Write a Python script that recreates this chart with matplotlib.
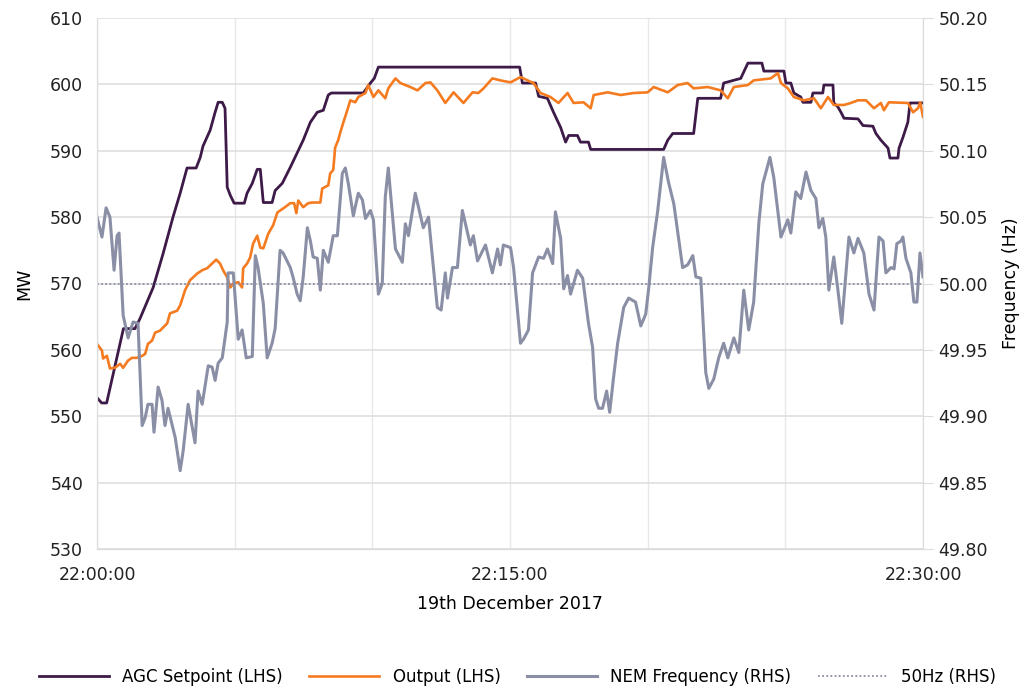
"""AGC setpoint vs unit output and NEM frequency, 19 Dec 2017 22:00-22:30"""

import numpy as np
import pandas as pd
import matplotlib
matplotlib.use("Agg")
import matplotlib.pyplot as plt
import matplotlib.dates as mdates
from matplotlib.ticker import FixedLocator, FuncFormatter

# minutes after 22:00:00
agc_min = [0, 0.17, 0.35, 0.72, 0.96, 1.38, 1.56, 2.04, 2.40, 2.76, 3.02, 3.27, 3.60,
           3.75, 3.85, 4.11, 4.29, 4.40, 4.55, 4.65, 4.73, 4.84, 4.98, 5.35, 5.45, 5.64,
           5.82, 5.93, 6.04, 6.36, 6.47, 6.73, 7.02, 7.49, 7.75, 8.00, 8.22, 8.40, 8.51,
           9.67, 9.93, 10.07, 10.22, 15.35, 15.45, 15.93, 16.04, 16.36, 16.58, 16.84,
           17.02, 17.13, 17.45, 17.56, 17.85, 17.93, 20.58, 20.73, 20.91, 21.67, 21.82,
           22.65, 22.76, 23.38, 23.64, 24.15, 24.22, 24.95, 25.02, 25.20, 25.31, 25.56,
           25.64, 25.93, 26.00, 26.36, 26.40, 26.73, 26.76, 26.91, 27.02, 27.13, 27.64,
           27.82, 28.18, 28.29, 28.47, 28.73, 28.80, 29.09, 29.13, 29.27, 29.45, 29.53, 30.0]
agc_mw = [552.8, 552.0, 552.0, 558.8, 563.2, 563.2, 564.7, 569.4, 574.5, 580.0, 583.6,
          587.4, 587.4, 589.0, 590.7, 593.1, 595.8, 597.3, 597.3, 596.4, 584.5, 583.3,
          582.1, 582.1, 583.6, 585.1, 587.2, 587.2, 582.2, 582.2, 584.0, 585.1, 587.5,
          591.6, 594.3, 595.8, 596.1, 598.4, 598.7, 598.7, 600.2, 600.9, 602.6, 602.6,
          600.2, 600.2, 598.2, 597.9, 595.8, 593.5, 591.3, 592.3, 592.3, 591.3, 591.3,
          590.2, 590.2, 591.6, 592.6, 592.6, 597.9, 597.9, 600.2, 600.9, 603.2, 603.2,
          602.0, 602.0, 600.2, 600.2, 598.7, 598.1, 597.3, 597.3, 598.7, 598.7, 599.9,
          599.9, 597.2, 596.6, 595.8, 594.9, 594.8, 593.8, 593.7, 592.6, 591.6, 590.4,
          588.9, 588.9, 590.4, 592.0, 594.3, 597.2, 597.2]

out_min = [0, 0.18, 0.22, 0.36, 0.47, 0.65, 0.84, 0.95, 1.13, 1.27, 1.45, 1.64, 1.75,
           1.85, 2.00, 2.11, 2.29, 2.55, 2.65, 2.91, 3.02, 3.20, 3.38, 3.64, 3.82, 4.00,
           4.18, 4.33, 4.47, 4.58, 4.73, 4.84, 4.95, 5.13, 5.27, 5.31, 5.45, 5.56, 5.67,
           5.82, 5.93, 6.04, 6.22, 6.40, 6.55, 6.76, 7.02, 7.16, 7.24, 7.31, 7.49, 7.67,
           7.82, 8.11, 8.18, 8.40, 8.47, 8.58, 8.65, 8.76, 8.84, 8.95, 9.09, 9.20, 9.38,
           9.49, 9.75, 9.85, 10.04, 10.22, 10.47, 10.58, 10.84, 11.02, 11.38, 11.64,
           11.93, 12.11, 12.36, 12.65, 12.95, 13.31, 13.64, 13.85, 14.04, 14.36, 14.65,
           15.02, 15.38, 15.64, 15.85, 16.11, 16.47, 16.76, 17.09, 17.31, 17.67, 17.93,
           18.04, 18.55, 19.02, 19.49, 20.00, 20.22, 20.73, 21.09, 21.45, 21.67, 22.18,
           22.65, 22.91, 23.13, 23.64, 23.85, 24.47, 24.73, 24.84, 25.09, 25.31, 25.67,
           26.04, 26.29, 26.55, 26.76, 27.13, 27.38, 27.64, 27.93, 28.22, 28.47, 28.58,
           28.76, 29.45, 29.64, 29.82, 29.90, 30.0]
out_mw = [560.9, 559.9, 558.7, 559.1, 557.2, 557.3, 557.9, 557.3, 558.4, 558.8, 558.8,
          559.1, 559.4, 560.9, 561.4, 562.6, 562.9, 564.0, 565.5, 565.9, 566.7, 569.0,
          570.5, 571.5, 572.0, 572.3, 573.0, 573.6, 573.0, 572.0, 570.9, 569.4, 570.0,
          570.2, 569.4, 572.3, 573.0, 573.9, 576.0, 577.2, 575.4, 575.3, 577.5, 578.8,
          580.7, 581.3, 582.1, 582.1, 580.6, 582.5, 581.5, 582.1, 582.2, 582.2, 584.3,
          584.8, 586.6, 587.1, 590.5, 591.6, 592.8, 594.3, 596.1, 597.6, 597.3, 598.1,
          598.7, 599.9, 598.1, 599.1, 597.9, 599.4, 600.9, 600.2, 599.6, 599.1, 600.2,
          600.3, 599.1, 597.2, 598.8, 597.2, 598.8, 598.7, 599.4, 600.9, 600.6, 600.3,
          601.1, 600.6, 600.2, 598.7, 598.1, 597.2, 598.7, 597.2, 597.3, 596.4, 598.4,
          598.8, 598.4, 598.7, 598.8, 599.6, 598.8, 599.9, 600.2, 599.4, 599.6, 599.1,
          597.9, 599.6, 599.9, 600.6, 600.9, 601.7, 600.2, 599.4, 598.1, 597.6, 597.9,
          596.4, 598.1, 596.9, 596.9, 597.2, 597.6, 597.6, 596.4, 597.2, 596.1, 597.3,
          597.2, 595.8, 596.4, 597.3, 595.1]

freq_min = [0, 0.18, 0.33, 0.47, 0.62, 0.73, 0.80, 0.95, 1.13, 1.31, 1.49, 1.64, 1.75,
            1.85, 2.00, 2.07, 2.22, 2.36, 2.47, 2.58, 2.84, 3.02, 3.13, 3.31, 3.56, 3.67,
            3.82, 4.04, 4.18, 4.29, 4.40, 4.55, 4.73, 4.76, 4.95, 5.13, 5.27, 5.42, 5.64,
            5.75, 5.85, 6.04, 6.18, 6.36, 6.47, 6.65, 6.76, 7.02, 7.13, 7.27, 7.38, 7.49,
            7.64, 7.75, 7.85, 8.00, 8.11, 8.22, 8.40, 8.58, 8.73, 8.91, 9.02, 9.13, 9.31,
            9.49, 9.64, 9.75, 9.93, 10.04, 10.22, 10.36, 10.47, 10.58, 10.84, 11.09, 11.20,
            11.31, 11.56, 11.75, 11.85, 12.04, 12.36, 12.50, 12.65, 12.73, 12.91, 13.09,
            13.27, 13.56, 13.67, 13.82, 14.11, 14.36, 14.55, 14.65, 14.76, 15.02, 15.13,
            15.38, 15.49, 15.67, 15.82, 16.04, 16.22, 16.36, 16.55, 16.65, 16.84, 16.95,
            17.09, 17.20, 17.45, 17.64, 17.85, 18.00, 18.11, 18.22, 18.36, 18.51, 18.62,
            18.76, 18.91, 19.13, 19.31, 19.56, 19.75, 19.93, 20.04, 20.18, 20.36, 20.58,
            20.76, 20.95, 21.27, 21.45, 21.64, 21.75, 21.93, 22.11, 22.22, 22.40, 22.58,
            22.76, 22.91, 23.13, 23.31, 23.49, 23.67, 23.85, 24.04, 24.18, 24.44, 24.58,
            24.84, 25.09, 25.20, 25.38, 25.56, 25.75, 25.93, 26.11, 26.22, 26.36, 26.47,
            26.58, 26.76, 26.91, 27.05, 27.31, 27.49, 27.64, 27.85, 28.04, 28.22, 28.40,
            28.55, 28.65, 28.84, 28.95, 29.05, 29.20, 29.27, 29.38, 29.56, 29.67, 29.78,
            29.89, 30.0]
freq_hz = [50.050, 50.035, 50.057, 50.050, 50.010, 50.036, 50.038, 49.976, 49.959,
           49.971, 49.970, 49.893, 49.899, 49.909, 49.909, 49.888, 49.922, 49.912,
           49.893, 49.906, 49.884, 49.859, 49.874, 49.909, 49.880, 49.919, 49.909,
           49.938, 49.937, 49.927, 49.940, 49.944, 49.971, 50.008, 50.008, 49.958,
           49.965, 49.944, 49.945, 50.021, 50.012, 49.985, 49.944, 49.955, 49.966,
           50.025, 50.023, 50.012, 50.004, 49.992, 49.987, 50.005, 50.042, 50.032,
           50.020, 50.019, 49.995, 50.025, 50.016, 50.036, 50.036, 50.083, 50.087,
           50.075, 50.051, 50.068, 50.063, 50.049, 50.055, 50.048, 49.992, 50.000,
           50.065, 50.087, 50.026, 50.016, 50.045, 50.036, 50.068, 50.051, 50.042,
           50.050, 49.982, 49.980, 50.008, 49.989, 50.012, 50.012, 50.055, 50.029,
           50.036, 50.017, 50.029, 50.008, 50.026, 50.014, 50.029, 50.027, 50.012,
           49.955, 49.958, 49.965, 50.008, 50.020, 50.019, 50.026, 50.015, 50.054,
           50.034, 49.996, 50.006, 49.992, 50.010, 50.004, 49.970, 49.952, 49.913,
           49.906, 49.906, 49.919, 49.903, 49.929, 49.955, 49.982, 49.989, 49.986,
           49.968, 49.977, 49.997, 50.027, 50.054, 50.095, 50.076, 50.060, 50.012,
           50.014, 50.021, 50.005, 50.004, 49.933, 49.921, 49.928, 49.944, 49.955,
           49.944, 49.959, 49.948, 49.995, 49.965, 49.986, 50.046, 50.075, 50.095,
           50.080, 50.035, 50.048, 50.038, 50.069, 50.064, 50.084, 50.070, 50.064,
           50.042, 50.049, 50.035, 49.995, 50.020, 49.995, 49.970, 50.035, 50.023,
           50.034, 50.023, 49.992, 49.980, 50.035, 50.032, 50.008, 50.012, 50.011,
           50.030, 50.032, 50.035, 50.019, 50.008, 49.986, 49.986, 50.023, 50.005]

nominal_hz = 50.0

start = pd.Timestamp("2017-12-19 22:00:00")


def to_time(minutes):
    return start + pd.to_timedelta(np.asarray(minutes), unit="min")


PURPLE = "#3d1a47"
ORANGE = "#f47b20"
GREY = "#8a8fa6"
GRID = "#dcdcdc"

plt.rcParams["font.family"] = ["DejaVu Sans"]
plt.rcParams["font.size"] = 12.5

fig = plt.figure(figsize=(10.35, 6.93), dpi=100)
ax = fig.add_axes([97 / 1035, 1 - 549 / 693, 826 / 1035, 531 / 693])
ax2 = ax.twinx()

l1, = ax.plot(to_time(agc_min), agc_mw, color=PURPLE, lw=2.0, label="AGC Setpoint (LHS)")
l2, = ax.plot(to_time(out_min), out_mw, color=ORANGE, lw=1.9, label="Output (LHS)")
l3, = ax2.plot(to_time(freq_min), freq_hz, color=GREY, lw=2.2, label="NEM Frequency (RHS)")
l4 = ax2.axhline(nominal_hz, color=GREY, lw=1.3, ls=(0, (1.0, 1.3)), label="50Hz (RHS)")

t0, t1 = start, start + pd.Timedelta(minutes=30)
ax.set_xlim(t0, t1)
ax.set_ylim(530, 610)
ax.set_yticks(np.arange(530, 611, 10))
ax2.set_ylim(49.80, 50.20)
ax2.set_yticks(np.arange(49.80, 50.201, 0.05))
ax2.yaxis.set_major_formatter(FuncFormatter(lambda v, p: f"{v:.2f}"))

ticks = [mdates.date2num(start + pd.Timedelta(minutes=m)) for m in range(0, 31, 5)]
ax.xaxis.set_major_locator(FixedLocator(ticks))
ax.xaxis.set_major_formatter(FuncFormatter(
    lambda v, p: mdates.num2date(v).strftime("%H:%M:%S") if p in (0, 3, 6) else ""))

ax.grid(True, axis="y", color=GRID, lw=1.1)
ax.grid(True, axis="x", color="#e8e8e8", lw=1.0)
ax.set_axisbelow(True)
for a in (ax, ax2):
    for s in a.spines.values():
        s.set_color(GRID)
    a.spines["top"].set_visible(False)
ax.spines["bottom"].set_color("#c8c8c8")
ax.tick_params(axis="y", length=0, pad=10, labelcolor="#222222")
ax.tick_params(axis="x", length=0, pad=12, labelcolor="#222222")
ax2.tick_params(axis="y", length=7, color=GRID, pad=4, labelcolor="#222222")

ax.set_ylabel("MW", labelpad=12)
ax2.set_ylabel("Frequency (Hz)", labelpad=10)
ax.set_xlabel("19th December 2017", labelpad=8)

fig.legend(handles=[l1, l2, l3, l4], loc="center", bbox_to_anchor=(0.5, 1 - 677 / 693),
           ncol=4, frameon=False, handlelength=4.2, columnspacing=1.6, fontsize=12)

fig.savefig("out.png", dpi=100)
